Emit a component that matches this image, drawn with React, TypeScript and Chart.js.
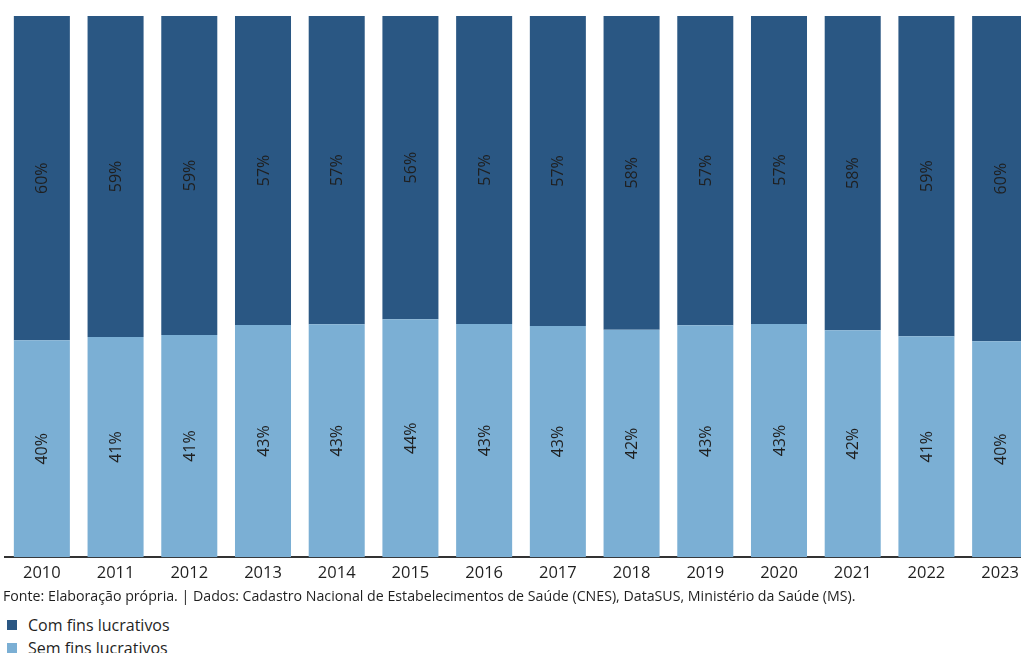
import React, { useEffect, useRef } from "react";
import { Chart, registerables } from "chart.js";

Chart.register(...registerables);

const years = ["2010", "2011", "2012", "2013", "2014", "2015", "2016", "2017", "2018", "2019", "2020", "2021", "2022", "2023"];
const semFins = [40.07, 40.69, 41.06, 42.91, 43.04, 43.97, 43.1, 42.72, 42.04, 42.85, 43.1, 41.93, 40.82, 39.89];
const comFins = [59.93, 59.31, 58.94, 57.09, 56.96, 56.03, 56.9, 57.28, 57.96, 57.15, 56.9, 58.07, 59.18, 60.11];
const seriesNames = ["Com fins lucrativos", "Sem fins lucrativos"];
const seriesColors = ["#2A5783", "#7BAFD4"];
const sourceText =
  "Fonte: Elaboração própria. | Dados: Cadastro Nacional de Estabelecimentos de Saúde (CNES), DataSUS, Ministério da Saúde (MS).";

const FONT = "'Open Sans', 'Noto Sans', sans-serif";

const barLabels = {
  id: "barLabels",
  afterDatasetsDraw(chart: any) {
    const ctx = chart.ctx;
    ctx.save();
    ctx.font = `16px ${FONT}`;
    ctx.fillStyle = "#1f1f1f";
    ctx.textAlign = "center";
    ctx.textBaseline = "middle";
    chart.data.datasets.forEach((ds: any, di: number) => {
      const meta = chart.getDatasetMeta(di);
      meta.data.forEach((bar: any, i: number) => {
        const { x, y, base } = bar.getProps(["x", "y", "base"], true);
        const cy = (y + base) / 2;
        ctx.save();
        ctx.translate(x, cy);
        ctx.rotate(-Math.PI / 2);
        ctx.fillText(Math.round(ds.data[i]) + "%", 0, 1);
        ctx.restore();
      });
    });
    ctx.restore();
  },
};

export default function App() {
  const ref = useRef<HTMLCanvasElement>(null);
  useEffect(() => {
    if (!ref.current) return;
    const chart = new Chart(ref.current, {
      type: "bar",
      data: {
        labels: years,
        datasets: [
          {
            label: seriesNames[1],
            data: semFins,
            backgroundColor: seriesColors[1],
            categoryPercentage: 1,
            barPercentage: 0.76,
          },
          {
            label: seriesNames[0],
            data: comFins,
            backgroundColor: seriesColors[0],
            categoryPercentage: 1,
            barPercentage: 0.76,
          },
        ],
      },
      options: {
        responsive: false,
        animation: false,
        layout: { padding: { left: 5, right: 0, top: 16, bottom: 1 } },
        plugins: { legend: { display: false }, tooltip: { enabled: false } },
        scales: {
          x: {
            stacked: true,
            grid: { display: false, drawTicks: false },
            border: { display: true, color: "#333333", width: 2 },
            ticks: { color: "#1f1f1f", font: { family: FONT, size: 16.5 }, padding: 6, maxRotation: 0, autoSkip: false },
          },
          y: { stacked: true, display: false, min: 0, max: 100 },
        },
      },
      plugins: [barLabels],
    });
    return () => chart.destroy();
  }, []);

  const legendItem = (i: number, top: number) => (
    <div style={{ position: "absolute", left: 7, top, height: 22, display: "flex", alignItems: "center" }}>
      <span style={{ display: "inline-block", width: 10, height: 10, background: seriesColors[i], marginRight: 11 }} />
      <span style={{ fontFamily: FONT, fontSize: 16, lineHeight: "22px", color: "#1f1f1f", whiteSpace: "nowrap" }}>{seriesNames[i]}</span>
    </div>
  );

  return (
    <div style={{ position: "absolute", left: 0, top: 0, width: 1021, height: 653, overflow: "hidden", background: "#fff" }}>
      <canvas ref={ref} width={1037} height={590} style={{ position: "absolute", left: 0, top: 0, display: "block" }} />
      <div
        style={{
          position: "absolute",
          left: 3,
          top: 589,
          fontFamily: FONT,
          fontSize: 14.2,
          lineHeight: "14px",
          color: "#1f1f1f",
          whiteSpace: "nowrap",
        }}
      >
        {sourceText}
      </div>
      {legendItem(0, 614)}
      {legendItem(1, 637)}
    </div>
  );
}
